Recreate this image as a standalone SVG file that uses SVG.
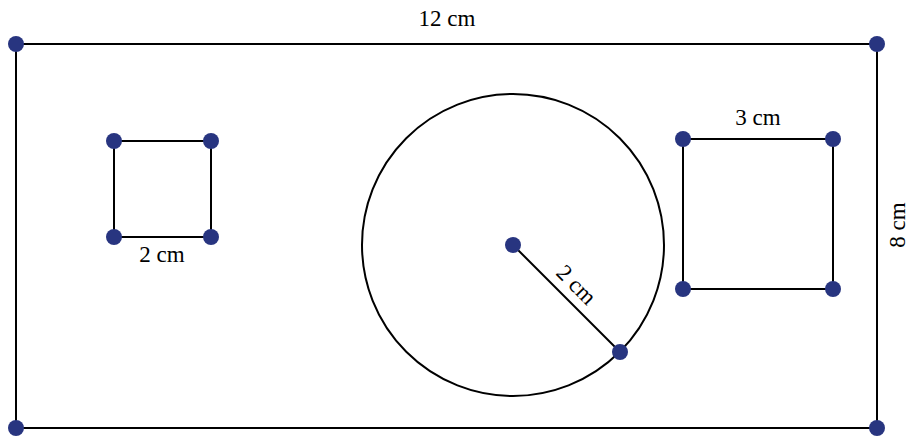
<svg xmlns="http://www.w3.org/2000/svg" width="910" height="437" viewBox="0 0 910 437">
<style>
.ln{stroke:#000;stroke-width:2;fill:none}
.pt{fill:#283580}
text{font-family:"Liberation Serif","Times New Roman",serif;font-size:23px;fill:#000}
</style>
<rect width="910" height="437" fill="#fff"/>
<g id="connectors">
<rect class="ln" x="16" y="44" width="861" height="384"/>
<rect class="ln" x="114" y="141" width="97" height="96"/>
<rect class="ln" x="683" y="139" width="150" height="150"/>
<circle class="ln" cx="513" cy="245" r="151"/>
<line class="ln" x1="513" y1="245" x2="620" y2="352"/>
</g>
<g id="outer-rect">
<circle class="pt" cx="16" cy="44" r="8"/>
<circle class="pt" cx="877" cy="44" r="8"/>
<circle class="pt" cx="16" cy="428" r="8"/>
<circle class="pt" cx="877" cy="428" r="8"/>
<text x="447" y="26" text-anchor="middle">12 cm</text>
<text transform="translate(905,225) rotate(-90)" text-anchor="middle">8 cm</text>
</g>
<g id="small-square">
<circle class="pt" cx="114" cy="141" r="8"/>
<circle class="pt" cx="211" cy="141" r="8"/>
<circle class="pt" cx="114" cy="237" r="8"/>
<circle class="pt" cx="211" cy="237" r="8"/>
<text x="162" y="262" text-anchor="middle">2 cm</text>
</g>
<g id="circle">
<circle class="pt" cx="513" cy="245" r="8"/>
<circle class="pt" cx="620" cy="352" r="8"/>
<text transform="translate(571,290) rotate(45)" text-anchor="middle">2 cm</text>
</g>
<g id="large-square">
<circle class="pt" cx="683" cy="139" r="8"/>
<circle class="pt" cx="833" cy="139" r="8"/>
<circle class="pt" cx="683" cy="289" r="8"/>
<circle class="pt" cx="833" cy="289" r="8"/>
<text x="758" y="125" text-anchor="middle">3 cm</text>
</g>
</svg>
